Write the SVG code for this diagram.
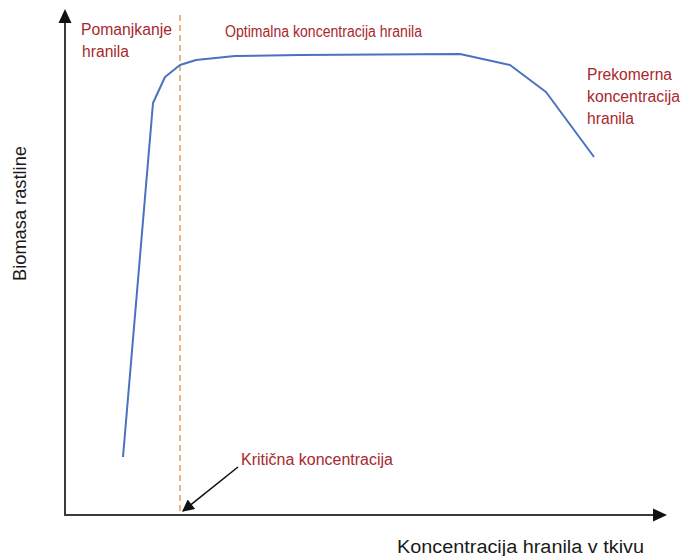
<svg xmlns="http://www.w3.org/2000/svg" width="682" height="556" viewBox="0 0 682 556">
<style>
.lbl{font-family:"Liberation Sans",Arial,sans-serif;font-size:16px;fill:#A8282E}
.ax{font-family:"Liberation Sans",Arial,sans-serif;font-size:18px;fill:#1a1a1a}
.axis{stroke:#3a3a3a;stroke-width:2;fill:none}
</style>
<defs>
<marker id="ahs" viewBox="0 0 10 10" refX="9" refY="5" markerWidth="14" markerHeight="12" orient="auto" markerUnits="userSpaceOnUse">
<path d="M0,0 L10,5 L0,10 z" fill="#111"/>
</marker>
</defs>
<rect width="682" height="556" fill="#ffffff"/>
<g id="axes">
<line class="axis" x1="65" y1="516" x2="65" y2="22"/>
<path d="M58.5,23 L65,9 L71.5,23 z" fill="#111"/>
<line class="axis" x1="64" y1="515" x2="654" y2="515"/>
<path d="M653,508.5 L667,515 L653,521.5 z" fill="#111"/>
<text class="ax" transform="translate(26,281) rotate(-90)" textLength="135" lengthAdjust="spacingAndGlyphs">Biomasa rastline</text>
<text class="ax" x="397" y="553" textLength="247" lengthAdjust="spacingAndGlyphs">Koncentracija hranila v tkivu</text>
</g>
<g id="critical-line">
<line x1="180" y1="15" x2="180" y2="514" stroke="#E3A36A" stroke-width="1.6" stroke-dasharray="6,4"/>
</g>
<g id="curve">
<polyline points="123,457 153,103 165,77 180,65 196,60 235,56 300,55 460,54 510,65 546,92 594,157" fill="none" stroke="#4A72BE" stroke-width="2" stroke-linejoin="round"/>
</g>
<g id="label-deficit">
<text class="lbl" x="81" y="35" textLength="91" lengthAdjust="spacingAndGlyphs">Pomanjkanje</text>
<text class="lbl" x="82" y="57" textLength="47" lengthAdjust="spacingAndGlyphs">hranila</text>
</g>
<g id="label-optimal">
<text class="lbl" x="225" y="37" textLength="197" lengthAdjust="spacingAndGlyphs">Optimalna koncentracija hranila</text>
</g>
<g id="label-excess">
<text class="lbl" x="587" y="80" textLength="85" lengthAdjust="spacingAndGlyphs">Prekomerna</text>
<text class="lbl" x="587" y="102" textLength="93" lengthAdjust="spacingAndGlyphs">koncentracija</text>
<text class="lbl" x="587" y="124" textLength="47" lengthAdjust="spacingAndGlyphs">hranila</text>
</g>
<g id="label-critical">
<text class="lbl" x="241" y="465" textLength="152" lengthAdjust="spacingAndGlyphs">Kritična koncentracija</text>
</g>
<g id="connectors">
<line x1="238" y1="467" x2="183" y2="511" stroke="#111" stroke-width="1.6" marker-end="url(#ahs)"/>
</g>
</svg>
